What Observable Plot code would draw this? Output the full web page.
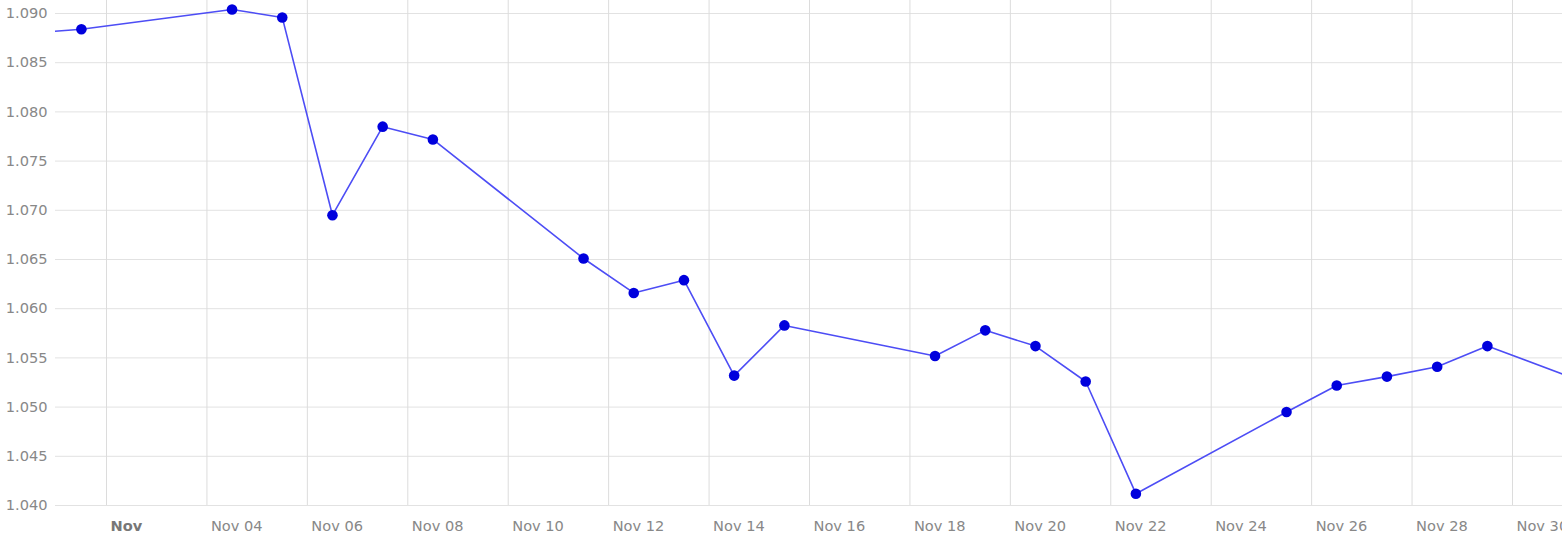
<!DOCTYPE html>
<html><head><meta charset="utf-8">
<script src="https://cdn.jsdelivr.net/npm/d3@7"></script>
<script src="https://cdn.jsdelivr.net/npm/@observablehq/plot@0.6"></script>
<style>html,body{margin:0;padding:0;background:#fff;overflow:hidden} svg{display:block}</style>
</head><body><div id="chart"></div>
<script>
const dates = ["2024-10-31","2024-11-01","2024-11-04","2024-11-05","2024-11-06","2024-11-07","2024-11-08",
  "2024-11-11","2024-11-12","2024-11-13","2024-11-14","2024-11-15",
  "2024-11-18","2024-11-19","2024-11-20","2024-11-21","2024-11-22",
  "2024-11-25","2024-11-26","2024-11-27","2024-11-28","2024-11-29","2024-12-02"];
const values = [1.0880,1.0884,1.0904,1.0896,1.0695,1.0785,1.0772,
  1.0651,1.0616,1.0629,1.0532,1.0583,
  1.0552,1.0578,1.0562,1.0526,1.0412,
  1.0495,1.0522,1.0531,1.0541,1.0562,1.0505];
const tickDates = ["2024-11-02","2024-11-04","2024-11-06","2024-11-08","2024-11-10","2024-11-12","2024-11-14",
  "2024-11-16","2024-11-18","2024-11-20","2024-11-22","2024-11-24","2024-11-26","2024-11-28","2024-11-30"];
const tickLabels = ["Nov","Nov 04","Nov 06","Nov 08","Nov 10","Nov 12","Nov 14",
  "Nov 16","Nov 18","Nov 20","Nov 22","Nov 24","Nov 26","Nov 28","Nov 30"];
const yTicks = [1.040,1.045,1.050,1.055,1.060,1.065,1.070,1.075,1.080,1.085,1.090];

const DAY = 86400000;
const data = dates.map((d,i) => ({date: new Date(Date.parse(d + "T00:00:00Z") + DAY/2), value: values[i]}));
const ticks = tickDates.map(d => new Date(d + "T00:00:00Z"));
const labelOf = new Map(ticks.map((t,i) => [+t, tickLabels[i]]));
const t0 = ticks[0].getTime();
const xDomain = [new Date(t0 - 1.0157*DAY), new Date(ticks[ticks.length-1].getTime() + 0.996*DAY)];

const chart = Plot.plot({
  width: 1562,
  height: 535,
  marginLeft: 55,
  marginRight: 0,
  marginTop: 0,
  marginBottom: 30,
  style: {fontFamily: "'DejaVu Sans', Verdana, sans-serif", fontSize: "14.6px", color: "#888", background: "#fff"},
  x: {type: "utc", domain: xDomain},
  y: {domain: [1.040, 1.09132]},
  marks: [
    Plot.gridY(yTicks, {stroke: "#e2e2e2", strokeOpacity: 1, strokeWidth: 1}),
    Plot.gridX(ticks, {stroke: "#dcdcdc", strokeOpacity: 1, strokeWidth: 1}),
    Plot.axisY(yTicks, {anchor: "left", tickSize: 0, tickPadding: 8, label: null, tickFormat: d3.format(".3f"), fill: "#888", fontSize: 14.6}),
    Plot.axisX(ticks.slice(0,1), {anchor: "bottom", tickSize: 0, tickPadding: 15, label: null, tickFormat: d => labelOf.get(+d), textAnchor: "start", dx: 4, fill: "#777", fontWeight: "bold", fontSize: 14.6}),
    Plot.axisX(ticks.slice(1), {anchor: "bottom", tickSize: 0, tickPadding: 15, label: null, tickFormat: d => labelOf.get(+d), textAnchor: "start", dx: 4, fill: "#888", fontSize: 14.6}),
    Plot.line(data, {x: "date", y: "value", stroke: "#4d4df5", strokeWidth: 1.6, clip: true}),
    Plot.dot(data, {x: "date", y: "value", r: 5.3, fill: "#0000dd", stroke: "none", clip: true})
  ]
});
document.getElementById("chart").appendChild(chart);
</script>
</body></html>
